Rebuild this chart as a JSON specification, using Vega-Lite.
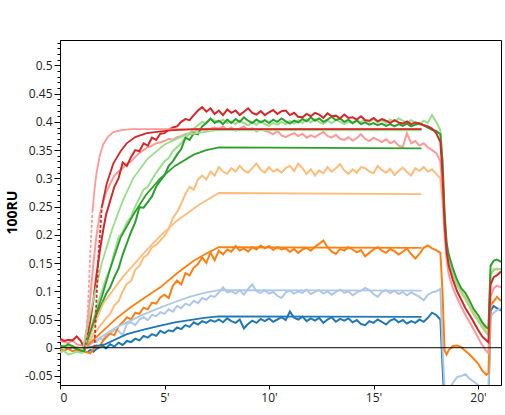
{
  "$schema": "https://vega.github.io/schema/vega-lite/v6.json",
  "width": 441,
  "height": 345,
  "autosize": {"type": "none"},
  "padding": {"left": 60, "top": 40, "right": 4, "bottom": 30},
  "background": "white",
  "config": {
    "view": {"stroke": "black", "strokeWidth": 1},
    "axis": {
      "grid": false,
      "labelFont": "Open Sans",
      "labelFontSize": 12,
      "labelColor": "#222",
      "domainColor": "black",
      "tickColor": "black",
      "titleFont": "Open Sans",
      "titleColor": "black"
    }
  },
  "datasets": {
    "raw": [
      {"t": 0, "b": 0.000, "lb": 0.003, "o": -0.003, "lo": 0.002, "p": 0.012, "lg": -0.008, "g": 0.004, "r": 0.016},
      {"t": 0.2, "b": 0.002, "lb": 0.001, "o": -0.005, "lo": 0.004, "p": 0.010, "lg": -0.006, "g": 0.002, "r": 0.012},
      {"t": 0.4, "b": -0.002, "lb": 0.004, "o": -0.002, "lo": 0.001, "p": 0.008, "lg": -0.012, "g": 0.006, "r": 0.014},
      {"t": 0.6, "b": 0.001, "lb": 0.000, "o": -0.006, "lo": 0.003, "p": 0.013, "lg": -0.010, "g": 0.003, "r": 0.013},
      {"t": 0.8, "b": -0.003, "lb": 0.002, "o": -0.004, "lo": 0.000, "p": 0.006, "lg": -0.007, "g": -0.002, "r": 0.020},
      {"t": 1.0, "b": -0.004, "lb": -0.002, "o": -0.006, "lo": -0.003, "p": 0.004, "lg": -0.009, "g": -0.005, "r": 0.012},
      {"t": 1.15, "b": -0.006, "lb": -0.004, "o": -0.006, "lo": -0.004, "p": 0.005, "lg": -0.008, "g": -0.006, "r": 0.000},
      {"t": 1.3, "b": -0.008, "lb": 0.000, "o": -0.008, "lo": 0.003, "p": 0.040, "lg": 0.010, "g": 0.008, "r": 0.020},
      {"t": 1.45, "b": -0.004, "lb": 0.006, "o": -0.010, "lo": 0.012, "p": 0.090, "lg": 0.030, "g": 0.025, "r": 0.048},
      {"t": 1.6, "b": -0.007, "lb": 0.012, "o": -0.002, "lo": 0.025, "p": 0.150, "lg": 0.050, "g": 0.040, "r": 0.085},
      {"t": 1.75, "b": -0.002, "lb": 0.010, "o": 0.004, "lo": 0.030, "p": 0.200, "lg": 0.070, "g": 0.058, "r": 0.130},
      {"t": 1.9, "b": 0.001, "lb": 0.017, "o": 0.002, "lo": 0.038, "p": 0.235, "lg": 0.088, "g": 0.070, "r": 0.170},
      {"t": 2.05, "b": 0.004, "lb": 0.014, "o": 0.012, "lo": 0.045, "p": 0.255, "lg": 0.105, "g": 0.082, "r": 0.205},
      {"t": 2.2, "b": -0.001, "lb": 0.022, "o": 0.018, "lo": 0.052, "p": 0.275, "lg": 0.122, "g": 0.095, "r": 0.235},
      {"t": 2.4, "b": 0.006, "lb": 0.025, "o": 0.025, "lo": 0.060, "p": 0.290, "lg": 0.140, "g": 0.107, "r": 0.260},
      {"t": 2.6, "b": 0.002, "lb": 0.032, "o": 0.022, "lo": 0.075, "p": 0.305, "lg": 0.168, "g": 0.125, "r": 0.285},
      {"t": 2.8, "b": 0.009, "lb": 0.030, "o": 0.038, "lo": 0.082, "p": 0.312, "lg": 0.195, "g": 0.140, "r": 0.300},
      {"t": 3.0, "b": 0.005, "lb": 0.022, "o": 0.045, "lo": 0.100, "p": 0.318, "lg": 0.205, "g": 0.165, "r": 0.328},
      {"t": 3.2, "b": 0.012, "lb": 0.042, "o": 0.054, "lo": 0.113, "p": 0.326, "lg": 0.222, "g": 0.185, "r": 0.322},
      {"t": 3.4, "b": 0.010, "lb": 0.045, "o": 0.050, "lo": 0.118, "p": 0.330, "lg": 0.232, "g": 0.205, "r": 0.338},
      {"t": 3.6, "b": 0.016, "lb": 0.040, "o": 0.062, "lo": 0.138, "p": 0.338, "lg": 0.250, "g": 0.222, "r": 0.350},
      {"t": 3.8, "b": 0.013, "lb": 0.050, "o": 0.060, "lo": 0.145, "p": 0.345, "lg": 0.265, "g": 0.249, "r": 0.348},
      {"t": 4.0, "b": 0.021, "lb": 0.054, "o": 0.071, "lo": 0.160, "p": 0.350, "lg": 0.280, "g": 0.248, "r": 0.362},
      {"t": 4.2, "b": 0.018, "lb": 0.049, "o": 0.068, "lo": 0.165, "p": 0.355, "lg": 0.285, "g": 0.258, "r": 0.358},
      {"t": 4.4, "b": 0.024, "lb": 0.058, "o": 0.080, "lo": 0.178, "p": 0.358, "lg": 0.298, "g": 0.268, "r": 0.372},
      {"t": 4.6, "b": 0.021, "lb": 0.056, "o": 0.078, "lo": 0.182, "p": 0.362, "lg": 0.310, "g": 0.285, "r": 0.368},
      {"t": 4.8, "b": 0.030, "lb": 0.063, "o": 0.089, "lo": 0.190, "p": 0.364, "lg": 0.320, "g": 0.296, "r": 0.379},
      {"t": 5.0, "b": 0.026, "lb": 0.060, "o": 0.094, "lo": 0.198, "p": 0.366, "lg": 0.330, "g": 0.305, "r": 0.380},
      {"t": 5.2, "b": 0.031, "lb": 0.068, "o": 0.088, "lo": 0.210, "p": 0.370, "lg": 0.336, "g": 0.322, "r": 0.386},
      {"t": 5.4, "b": 0.029, "lb": 0.064, "o": 0.110, "lo": 0.230, "p": 0.368, "lg": 0.348, "g": 0.330, "r": 0.390},
      {"t": 5.6, "b": 0.036, "lb": 0.074, "o": 0.119, "lo": 0.240, "p": 0.373, "lg": 0.355, "g": 0.342, "r": 0.392},
      {"t": 5.8, "b": 0.033, "lb": 0.070, "o": 0.112, "lo": 0.255, "p": 0.375, "lg": 0.362, "g": 0.352, "r": 0.400},
      {"t": 6.0, "b": 0.040, "lb": 0.078, "o": 0.132, "lo": 0.272, "p": 0.378, "lg": 0.372, "g": 0.372, "r": 0.405},
      {"t": 6.2, "b": 0.037, "lb": 0.075, "o": 0.128, "lo": 0.285, "p": 0.380, "lg": 0.380, "g": 0.368, "r": 0.403},
      {"t": 6.4, "b": 0.045, "lb": 0.083, "o": 0.142, "lo": 0.280, "p": 0.383, "lg": 0.388, "g": 0.380, "r": 0.412},
      {"t": 6.6, "b": 0.041, "lb": 0.079, "o": 0.148, "lo": 0.298, "p": 0.385, "lg": 0.394, "g": 0.378, "r": 0.420},
      {"t": 6.8, "b": 0.047, "lb": 0.088, "o": 0.160, "lo": 0.305, "p": 0.386, "lg": 0.400, "g": 0.392, "r": 0.426},
      {"t": 7.0, "b": 0.044, "lb": 0.085, "o": 0.150, "lo": 0.298, "p": 0.384, "lg": 0.398, "g": 0.398, "r": 0.418},
      {"t": 7.2, "b": 0.049, "lb": 0.092, "o": 0.169, "lo": 0.312, "p": 0.388, "lg": 0.405, "g": 0.406, "r": 0.424},
      {"t": 7.4, "b": 0.046, "lb": 0.090, "o": 0.155, "lo": 0.305, "p": 0.390, "lg": 0.402, "g": 0.398, "r": 0.414},
      {"t": 7.6, "b": 0.050, "lb": 0.098, "o": 0.172, "lo": 0.320, "p": 0.388, "lg": 0.400, "g": 0.402, "r": 0.420},
      {"t": 7.8, "b": 0.045, "lb": 0.107, "o": 0.165, "lo": 0.312, "p": 0.392, "lg": 0.404, "g": 0.396, "r": 0.412},
      {"t": 8.0, "b": 0.052, "lb": 0.098, "o": 0.174, "lo": 0.308, "p": 0.386, "lg": 0.398, "g": 0.404, "r": 0.422},
      {"t": 8.2, "b": 0.047, "lb": 0.100, "o": 0.170, "lo": 0.318, "p": 0.390, "lg": 0.401, "g": 0.398, "r": 0.416},
      {"t": 8.4, "b": 0.044, "lb": 0.096, "o": 0.180, "lo": 0.312, "p": 0.384, "lg": 0.396, "g": 0.405, "r": 0.420},
      {"t": 8.6, "b": 0.050, "lb": 0.102, "o": 0.172, "lo": 0.322, "p": 0.388, "lg": 0.402, "g": 0.400, "r": 0.412},
      {"t": 8.8, "b": 0.034, "lb": 0.094, "o": 0.176, "lo": 0.314, "p": 0.392, "lg": 0.398, "g": 0.408, "r": 0.418},
      {"t": 9.0, "b": 0.042, "lb": 0.104, "o": 0.170, "lo": 0.310, "p": 0.386, "lg": 0.394, "g": 0.402, "r": 0.424},
      {"t": 9.2, "b": 0.048, "lb": 0.112, "o": 0.178, "lo": 0.318, "p": 0.389, "lg": 0.399, "g": 0.398, "r": 0.416},
      {"t": 9.4, "b": 0.044, "lb": 0.100, "o": 0.174, "lo": 0.326, "p": 0.383, "lg": 0.395, "g": 0.404, "r": 0.413},
      {"t": 9.6, "b": 0.051, "lb": 0.097, "o": 0.181, "lo": 0.315, "p": 0.387, "lg": 0.401, "g": 0.399, "r": 0.419},
      {"t": 9.8, "b": 0.047, "lb": 0.102, "o": 0.176, "lo": 0.310, "p": 0.384, "lg": 0.396, "g": 0.403, "r": 0.412},
      {"t": 10.0, "b": 0.052, "lb": 0.096, "o": 0.180, "lo": 0.320, "p": 0.382, "lg": 0.393, "g": 0.398, "r": 0.417},
      {"t": 10.2, "b": 0.046, "lb": 0.099, "o": 0.173, "lo": 0.312, "p": 0.378, "lg": 0.398, "g": 0.404, "r": 0.421},
      {"t": 10.4, "b": 0.050, "lb": 0.092, "o": 0.178, "lo": 0.316, "p": 0.384, "lg": 0.395, "g": 0.400, "r": 0.414},
      {"t": 10.6, "b": 0.054, "lb": 0.088, "o": 0.174, "lo": 0.310, "p": 0.376, "lg": 0.400, "g": 0.406, "r": 0.419},
      {"t": 10.8, "b": 0.049, "lb": 0.098, "o": 0.176, "lo": 0.318, "p": 0.373, "lg": 0.396, "g": 0.401, "r": 0.420},
      {"t": 11.0, "b": 0.064, "lb": 0.101, "o": 0.170, "lo": 0.322, "p": 0.377, "lg": 0.402, "g": 0.397, "r": 0.412},
      {"t": 11.2, "b": 0.053, "lb": 0.096, "o": 0.175, "lo": 0.313, "p": 0.380, "lg": 0.397, "g": 0.402, "r": 0.416},
      {"t": 11.4, "b": 0.050, "lb": 0.100, "o": 0.168, "lo": 0.326, "p": 0.375, "lg": 0.403, "g": 0.399, "r": 0.409},
      {"t": 11.6, "b": 0.055, "lb": 0.097, "o": 0.174, "lo": 0.318, "p": 0.379, "lg": 0.398, "g": 0.405, "r": 0.408},
      {"t": 11.8, "b": 0.047, "lb": 0.103, "o": 0.177, "lo": 0.308, "p": 0.372, "lg": 0.404, "g": 0.401, "r": 0.414},
      {"t": 12.0, "b": 0.052, "lb": 0.095, "o": 0.172, "lo": 0.316, "p": 0.376, "lg": 0.399, "g": 0.408, "r": 0.410},
      {"t": 12.2, "b": 0.048, "lb": 0.099, "o": 0.179, "lo": 0.305, "p": 0.373, "lg": 0.405, "g": 0.402, "r": 0.416},
      {"t": 12.4, "b": 0.053, "lb": 0.102, "o": 0.184, "lo": 0.314, "p": 0.378, "lg": 0.400, "g": 0.406, "r": 0.413},
      {"t": 12.6, "b": 0.044, "lb": 0.096, "o": 0.190, "lo": 0.309, "p": 0.382, "lg": 0.396, "g": 0.400, "r": 0.407},
      {"t": 12.8, "b": 0.050, "lb": 0.100, "o": 0.178, "lo": 0.320, "p": 0.375, "lg": 0.402, "g": 0.404, "r": 0.415},
      {"t": 13.0, "b": 0.054, "lb": 0.094, "o": 0.170, "lo": 0.312, "p": 0.372, "lg": 0.398, "g": 0.409, "r": 0.410},
      {"t": 13.2, "b": 0.046, "lb": 0.099, "o": 0.166, "lo": 0.318, "p": 0.377, "lg": 0.404, "g": 0.403, "r": 0.411},
      {"t": 13.4, "b": 0.051, "lb": 0.103, "o": 0.175, "lo": 0.325, "p": 0.370, "lg": 0.400, "g": 0.406, "r": 0.406},
      {"t": 13.6, "b": 0.048, "lb": 0.097, "o": 0.172, "lo": 0.314, "p": 0.368, "lg": 0.396, "g": 0.400, "r": 0.413},
      {"t": 13.8, "b": 0.052, "lb": 0.100, "o": 0.178, "lo": 0.308, "p": 0.373, "lg": 0.401, "g": 0.404, "r": 0.407},
      {"t": 14.0, "b": 0.045, "lb": 0.093, "o": 0.174, "lo": 0.316, "p": 0.367, "lg": 0.397, "g": 0.398, "r": 0.408},
      {"t": 14.2, "b": 0.049, "lb": 0.098, "o": 0.169, "lo": 0.310, "p": 0.371, "lg": 0.403, "g": 0.402, "r": 0.404},
      {"t": 14.4, "b": 0.042, "lb": 0.101, "o": 0.173, "lo": 0.320, "p": 0.378, "lg": 0.399, "g": 0.396, "r": 0.410},
      {"t": 14.6, "b": 0.040, "lb": 0.106, "o": 0.162, "lo": 0.318, "p": 0.370, "lg": 0.404, "g": 0.399, "r": 0.403},
      {"t": 14.8, "b": 0.047, "lb": 0.102, "o": 0.168, "lo": 0.312, "p": 0.366, "lg": 0.400, "g": 0.395, "r": 0.402},
      {"t": 15.0, "b": 0.044, "lb": 0.095, "o": 0.174, "lo": 0.309, "p": 0.372, "lg": 0.405, "g": 0.398, "r": 0.407},
      {"t": 15.2, "b": 0.050, "lb": 0.090, "o": 0.178, "lo": 0.322, "p": 0.368, "lg": 0.399, "g": 0.394, "r": 0.401},
      {"t": 15.4, "b": 0.046, "lb": 0.099, "o": 0.172, "lo": 0.315, "p": 0.364, "lg": 0.403, "g": 0.397, "r": 0.405},
      {"t": 15.6, "b": 0.041, "lb": 0.102, "o": 0.168, "lo": 0.310, "p": 0.369, "lg": 0.398, "g": 0.393, "r": 0.402},
      {"t": 15.8, "b": 0.048, "lb": 0.097, "o": 0.175, "lo": 0.317, "p": 0.362, "lg": 0.404, "g": 0.396, "r": 0.398},
      {"t": 16.0, "b": 0.051, "lb": 0.101, "o": 0.171, "lo": 0.306, "p": 0.366, "lg": 0.401, "g": 0.392, "r": 0.403},
      {"t": 16.2, "b": 0.045, "lb": 0.095, "o": 0.165, "lo": 0.313, "p": 0.358, "lg": 0.406, "g": 0.396, "r": 0.399},
      {"t": 16.4, "b": 0.049, "lb": 0.099, "o": 0.170, "lo": 0.319, "p": 0.355, "lg": 0.402, "g": 0.393, "r": 0.397},
      {"t": 16.6, "b": 0.043, "lb": 0.093, "o": 0.176, "lo": 0.311, "p": 0.380, "lg": 0.398, "g": 0.397, "r": 0.401},
      {"t": 16.8, "b": 0.047, "lb": 0.098, "o": 0.166, "lo": 0.305, "p": 0.362, "lg": 0.403, "g": 0.392, "r": 0.396},
      {"t": 17.0, "b": 0.044, "lb": 0.094, "o": 0.158, "lo": 0.318, "p": 0.366, "lg": 0.399, "g": 0.395, "r": 0.399},
      {"t": 17.2, "b": 0.050, "lb": 0.090, "o": 0.166, "lo": 0.313, "p": 0.358, "lg": 0.395, "g": 0.397, "r": 0.397},
      {"t": 17.4, "b": 0.046, "lb": 0.084, "o": 0.177, "lo": 0.320, "p": 0.362, "lg": 0.402, "g": 0.394, "r": 0.394},
      {"t": 17.6, "b": 0.053, "lb": 0.094, "o": 0.181, "lo": 0.312, "p": 0.355, "lg": 0.398, "g": 0.390, "r": 0.392},
      {"t": 17.8, "b": 0.062, "lb": 0.098, "o": 0.176, "lo": 0.316, "p": 0.350, "lg": 0.412, "g": 0.386, "r": 0.388},
      {"t": 18.0, "b": 0.058, "lb": 0.100, "o": 0.173, "lo": 0.308, "p": 0.345, "lg": 0.400, "g": 0.384, "r": 0.380},
      {"t": 18.2, "b": 0.050, "lb": 0.104, "o": 0.168, "lo": 0.300, "p": 0.330, "lg": 0.385, "g": 0.378, "r": 0.364},
      {"t": 18.3, "b": -0.030, "lb": 0.000, "o": 0.100, "lo": 0.260, "p": 0.280, "lg": 0.330, "g": 0.330, "r": 0.310},
      {"t": 18.4, "b": -0.100, "lb": -0.070, "o": -0.005, "lo": 0.210, "p": 0.200, "lg": 0.230, "g": 0.240, "r": 0.220},
      {"t": 18.5, "b": -0.100, "lb": -0.080, "o": -0.012, "lo": 0.170, "p": 0.155, "lg": 0.180, "g": 0.185, "r": 0.170},
      {"t": 18.6, "b": -0.100, "lb": -0.075, "o": -0.004, "lo": 0.150, "p": 0.130, "lg": 0.155, "g": 0.165, "r": 0.145},
      {"t": 18.8, "b": -0.095, "lb": -0.062, "o": 0.003, "lo": 0.127, "p": 0.105, "lg": 0.130, "g": 0.140, "r": 0.120},
      {"t": 19.0, "b": -0.085, "lb": -0.052, "o": 0.004, "lo": 0.110, "p": 0.088, "lg": 0.112, "g": 0.120, "r": 0.100},
      {"t": 19.2, "b": -0.080, "lb": -0.050, "o": 0.001, "lo": 0.100, "p": 0.072, "lg": 0.097, "g": 0.105, "r": 0.085},
      {"t": 19.4, "b": -0.075, "lb": -0.047, "o": -0.006, "lo": 0.090, "p": 0.058, "lg": 0.086, "g": 0.097, "r": 0.070},
      {"t": 19.6, "b": -0.068, "lb": -0.055, "o": -0.012, "lo": 0.075, "p": 0.045, "lg": 0.072, "g": 0.083, "r": 0.058},
      {"t": 19.8, "b": -0.072, "lb": -0.060, "o": -0.020, "lo": 0.062, "p": 0.032, "lg": 0.058, "g": 0.068, "r": 0.045},
      {"t": 20.0, "b": -0.080, "lb": -0.066, "o": -0.028, "lo": 0.050, "p": 0.018, "lg": 0.048, "g": 0.058, "r": 0.032},
      {"t": 20.2, "b": -0.090, "lb": -0.075, "o": -0.040, "lo": 0.040, "p": 0.005, "lg": 0.036, "g": 0.045, "r": 0.020},
      {"t": 20.4, "b": -0.095, "lb": -0.080, "o": -0.048, "lo": 0.030, "p": -0.006, "lg": 0.026, "g": 0.036, "r": 0.013},
      {"t": 20.5, "b": -0.095, "lb": -0.075, "o": -0.045, "lo": 0.028, "p": -0.010, "lg": 0.022, "g": 0.034, "r": 0.010},
      {"t": 20.6, "b": 0.065, "lb": 0.055, "o": 0.075, "lo": 0.128, "p": 0.090, "lg": 0.130, "g": 0.145, "r": 0.112},
      {"t": 20.75, "b": 0.074, "lb": 0.062, "o": 0.082, "lo": 0.140, "p": 0.105, "lg": 0.137, "g": 0.154, "r": 0.125},
      {"t": 20.9, "b": 0.070, "lb": 0.066, "o": 0.090, "lo": 0.138, "p": 0.110, "lg": 0.140, "g": 0.156, "r": 0.128},
      {"t": 21.1, "b": 0.066, "lb": 0.070, "o": 0.083, "lo": 0.140, "p": 0.107, "lg": 0.138, "g": 0.152, "r": 0.135}
    ],
    "fit": [
      {"s": "b", "t": 1.3, "v": 0}, {"s": "b", "t": 2.15, "v": 0.006}, {"s": "b", "t": 3.2, "v": 0.024}, {"s": "b", "t": 4.0, "v": 0.032}, {"s": "b", "t": 4.8, "v": 0.039}, {"s": "b", "t": 5.5, "v": 0.045}, {"s": "b", "t": 6.2, "v": 0.049}, {"s": "b", "t": 6.9, "v": 0.053}, {"s": "b", "t": 7.6, "v": 0.0555}, {"s": "b", "t": 17.3, "v": 0.0545},
      {"s": "lb", "t": 1.2, "v": 0}, {"s": "lb", "t": 2.0, "v": 0.02}, {"s": "lb", "t": 2.6, "v": 0.034}, {"s": "lb", "t": 3.2, "v": 0.045}, {"s": "lb", "t": 4.0, "v": 0.059}, {"s": "lb", "t": 4.8, "v": 0.071}, {"s": "lb", "t": 5.5, "v": 0.081}, {"s": "lb", "t": 6.2, "v": 0.09}, {"s": "lb", "t": 6.9, "v": 0.097}, {"s": "lb", "t": 7.6, "v": 0.102}, {"s": "lb", "t": 17.3, "v": 0.101},
      {"s": "o", "t": 1.2, "v": 0}, {"s": "o", "t": 2.06, "v": 0.03}, {"s": "o", "t": 2.7, "v": 0.052}, {"s": "o", "t": 3.4, "v": 0.072}, {"s": "o", "t": 4.1, "v": 0.09}, {"s": "o", "t": 4.8, "v": 0.107}, {"s": "o", "t": 5.6, "v": 0.132}, {"s": "o", "t": 6.4, "v": 0.154}, {"s": "o", "t": 7.0, "v": 0.167}, {"s": "o", "t": 7.6, "v": 0.178}, {"s": "o", "t": 17.3, "v": 0.177},
      {"s": "lo", "t": 1.2, "v": 0}, {"s": "lo", "t": 2.06, "v": 0.078}, {"s": "lo", "t": 3.0, "v": 0.125}, {"s": "lo", "t": 4.0, "v": 0.167}, {"s": "lo", "t": 4.8, "v": 0.198}, {"s": "lo", "t": 5.6, "v": 0.225}, {"s": "lo", "t": 6.6, "v": 0.252}, {"s": "lo", "t": 7.6, "v": 0.274}, {"s": "lo", "t": 17.3, "v": 0.272},
      {"s": "p", "t": 1.55, "v": 0.24}, {"s": "p", "t": 1.65, "v": 0.28}, {"s": "p", "t": 1.75, "v": 0.31}, {"s": "p", "t": 1.9, "v": 0.34}, {"s": "p", "t": 2.07, "v": 0.36}, {"s": "p", "t": 2.3, "v": 0.374}, {"s": "p", "t": 2.55, "v": 0.382}, {"s": "p", "t": 3.0, "v": 0.386}, {"s": "p", "t": 3.5, "v": 0.387}, {"s": "p", "t": 17.3, "v": 0.387},
      {"s": "lg", "t": 1.1, "v": 0}, {"s": "lg", "t": 1.5, "v": 0.07}, {"s": "lg", "t": 2.0, "v": 0.15}, {"s": "lg", "t": 2.5, "v": 0.21}, {"s": "lg", "t": 3.0, "v": 0.26}, {"s": "lg", "t": 3.5, "v": 0.3}, {"s": "lg", "t": 4.2, "v": 0.335}, {"s": "lg", "t": 5.0, "v": 0.36}, {"s": "lg", "t": 6.0, "v": 0.377}, {"s": "lg", "t": 7.6, "v": 0.386}, {"s": "lg", "t": 17.3, "v": 0.385},
      {"s": "g", "t": 1.2, "v": 0}, {"s": "g", "t": 1.6, "v": 0.045}, {"s": "g", "t": 2.0, "v": 0.09}, {"s": "g", "t": 2.4, "v": 0.14}, {"s": "g", "t": 2.9, "v": 0.195}, {"s": "g", "t": 3.5, "v": 0.235}, {"s": "g", "t": 4.1, "v": 0.27}, {"s": "g", "t": 4.8, "v": 0.3}, {"s": "g", "t": 5.5, "v": 0.322}, {"s": "g", "t": 6.4, "v": 0.342}, {"s": "g", "t": 7.0, "v": 0.35}, {"s": "g", "t": 7.6, "v": 0.355}, {"s": "g", "t": 17.3, "v": 0.353},
      {"s": "r", "t": 2.0, "v": 0.249}, {"s": "r", "t": 2.23, "v": 0.29}, {"s": "r", "t": 2.55, "v": 0.326}, {"s": "r", "t": 2.9, "v": 0.348}, {"s": "r", "t": 3.19, "v": 0.362}, {"s": "r", "t": 3.6, "v": 0.373}, {"s": "r", "t": 4.15, "v": 0.38}, {"s": "r", "t": 5.26, "v": 0.385}, {"s": "r", "t": 6.5, "v": 0.387}, {"s": "r", "t": 17.3, "v": 0.387}
    ],
    "steep": [
      {"s": "p", "t": 1.25, "v": 0}, {"s": "p", "t": 1.35, "v": 0.08}, {"s": "p", "t": 1.45, "v": 0.17}, {"s": "p", "t": 1.55, "v": 0.24},
      {"s": "r", "t": 1.65, "v": 0}, {"s": "r", "t": 1.75, "v": 0.09}, {"s": "r", "t": 1.85, "v": 0.17}, {"s": "r", "t": 1.93, "v": 0.21}, {"s": "r", "t": 2.0, "v": 0.249}
    ]
  },
  "resolve": {"axis": {"y": "independent"}},
  "layer": [
    {
      "data": {"name": "raw"},
      "transform": [{"fold": ["b", "lb", "o", "lo", "p", "lg", "g", "r"], "as": ["s", "v"]}],
      "mark": {"type": "line", "strokeWidth": 2, "clip": true},
      "encoding": {
        "x": {
          "field": "t",
          "type": "quantitative",
          "scale": {"domain": [0, 21.1], "nice": false, "zero": false},
          "axis": {
            "title": null,
            "values": [0, 5, 10, 15, 20],
            "tickSize": 4,
            "labelPadding": 3,
            "labelExpr": "datum.value == 0 ? '0' : datum.value + \"'\""
          }
        },
        "y": {
          "field": "v",
          "type": "quantitative",
          "scale": {"domain": [-0.066, 0.545], "nice": false, "zero": false},
          "axis": {
            "orient": "left",
            "title": "100RU",
            "titleFontSize": 14,
            "titleFontWeight": "bold",
            "titleX": -41,
            "titleY": 172,
            "values": [-0.05, 0, 0.05, 0.1, 0.15, 0.2, 0.25, 0.3, 0.35, 0.4, 0.45, 0.5],
            "tickSize": 6,
            "labelOverlap": false,
            "labelPadding": 2,
            "labelExpr": "datum.value < 0 ? '-' + format(-datum.value, '.2~f') : format(datum.value, '.2~f')"
          }
        },
        "color": {
          "field": "s",
          "type": "nominal",
          "scale": {
            "domain": ["b", "lb", "o", "lo", "p", "lg", "g", "r"],
            "range": ["#1f77b4", "#aec7e8", "#ff7f0e", "#ffbb78", "#ff9896", "#98df8a", "#2ca02c", "#d62728"]
          },
          "legend": null
        }
      }
    },
    {
      "data": {"name": "fit"},
      "mark": {"type": "line", "strokeWidth": 1.8, "clip": true},
      "encoding": {
        "x": {"field": "t", "type": "quantitative"},
        "y": {"field": "v", "type": "quantitative", "axis": null},
        "color": {"field": "s", "type": "nominal", "legend": null}
      }
    },
    {
      "data": {"name": "steep"},
      "mark": {"type": "line", "strokeWidth": 1.8, "strokeDash": [3, 2], "clip": true},
      "encoding": {
        "x": {"field": "t", "type": "quantitative"},
        "y": {"field": "v", "type": "quantitative", "axis": null},
        "color": {"field": "s", "type": "nominal", "legend": null}
      }
    },
    {
      "data": {"values": [{}]},
      "mark": {"type": "rule", "color": "black", "strokeWidth": 1},
      "encoding": {
        "y": {
          "datum": 0,
          "type": "quantitative",
          "axis": {
            "orient": "left",
            "title": null,
            "labels": false,
            "domain": false,
            "tickSize": 3,
            "values": [-0.06, -0.05, -0.04, -0.03, -0.02, -0.01, 0, 0.01, 0.02, 0.03, 0.04, 0.05, 0.06, 0.07, 0.08, 0.09, 0.1, 0.11, 0.12, 0.13, 0.14, 0.15, 0.16, 0.17, 0.18, 0.19, 0.2, 0.21, 0.22, 0.23, 0.24, 0.25, 0.26, 0.27, 0.28, 0.29, 0.3, 0.31, 0.32, 0.33, 0.34, 0.35, 0.36, 0.37, 0.38, 0.39, 0.4, 0.41, 0.42, 0.43, 0.44, 0.45, 0.46, 0.47, 0.48, 0.49, 0.5, 0.51, 0.52, 0.53, 0.54]
          }
        }
      }
    }
  ]
}
